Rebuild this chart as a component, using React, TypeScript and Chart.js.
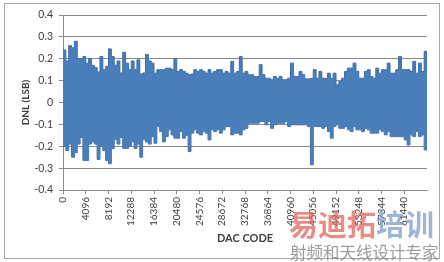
import React, { useEffect, useRef } from "react";
import { Chart, registerables } from "chart.js";

Chart.register(...registerables);

// Each bin covers 512 DAC codes; values are the upper / lower DNL envelope.
const BIN_SIZE = 512;
const CODE_MAX = 65536;

const upperDNL = [
  0.24, 0.19, 0.26, 0.25, 0.28, 0.2, 0.2, 0.21, 0.18, 0.2, 0.17, 0.16, 0.14, 0.21, 0.15, 0.165,
  0.245, 0.21, 0.17, 0.19, 0.135, 0.23, 0.18, 0.15, 0.19, 0.15, 0.195, 0.13, 0.135, 0.22, 0.19, 0.18,
  0.134, 0.15, 0.15, 0.15, 0.157, 0.157, 0.15, 0.2, 0.142, 0.15, 0.142, 0.134, 0.127, 0.13, 0.15, 0.142,
  0.15, 0.142, 0.134, 0.15, 0.134, 0.142, 0.15, 0.15, 0.134, 0.142, 0.134, 0.188, 0.134, 0.142, 0.21, 0.134,
  0.142, 0.127, 0.127, 0.119, 0.119, 0.173, 0.127, 0.111, 0.111, 0.104, 0.119, 0.111, 0.119, 0.104, 0.104, 0.111,
  0.18, 0.119, 0.119, 0.142, 0.127, 0.108, 0.108, 0.11, 0.15, 0.111, 0.142, 0.111, 0.11, 0.134, 0.11, 0.134,
  0.081, 0.096, 0.111, 0.142, 0.157, 0.157, 0.18, 0.142, 0.111, 0.111, 0.142, 0.15, 0.119, 0.111, 0.157, 0.134,
  0.15, 0.15, 0.18, 0.134, 0.134, 0.15, 0.21, 0.15, 0.15, 0.15, 0.142, 0.188, 0.134, 0.18, 0.142, 0.234,
];

const lowerDNL = [
  -0.2, -0.22, -0.19, -0.25, -0.23, -0.19, -0.16, -0.265, -0.265, -0.19, -0.18, -0.19, -0.26, -0.2, -0.22, -0.265,
  -0.28, -0.21, -0.17, -0.19, -0.16, -0.21, -0.21, -0.2, -0.18, -0.21, -0.19, -0.25, -0.17, -0.18, -0.19, -0.156,
  -0.186, -0.11, -0.133, -0.18, -0.156, -0.125, -0.148, -0.163, -0.163, -0.133, -0.163, -0.15, -0.224, -0.14, -0.125, -0.14,
  -0.148, -0.133, -0.14, -0.171, -0.125, -0.133, -0.125, -0.14, -0.125, -0.11, -0.11, -0.148, -0.14, -0.14, -0.148, -0.125,
  -0.118, -0.095, -0.095, -0.095, -0.095, -0.087, -0.087, -0.102, -0.087, -0.118, -0.102, -0.095, -0.095, -0.095, -0.087, -0.11,
  -0.102, -0.102, -0.102, -0.102, -0.102, -0.102, -0.11, -0.285, -0.11, -0.11, -0.11, -0.118, -0.11, -0.133, -0.163, -0.11,
  -0.102, -0.118, -0.118, -0.11, -0.125, -0.133, -0.11, -0.125, -0.125, -0.133, -0.118, -0.125, -0.14, -0.14, -0.14, -0.125,
  -0.133, -0.148, -0.133, -0.156, -0.156, -0.156, -0.156, -0.156, -0.171, -0.194, -0.148, -0.156, -0.133, -0.156, -0.148, -0.217,
];

const xTickCodes = [
  0, 4096, 8192, 12288, 16384, 20480, 24576, 28672, 32768, 36864, 40960, 45056, 49152, 53248, 57344, 61440,
];
const yTickValues = [-0.4, -0.3, -0.2, -0.1, 0, 0.1, 0.2, 0.3, 0.4];

const X_TITLE = "DAC CODE";
const Y_TITLE = "DNL (LSB)";
const WATERMARK_RED = "易迪拓";
const WATERMARK_BLUE = "培训";
const WATERMARK_SUB = "射频和天线设计专家";

const GRID = "#8a8a8a";
const TEXT = "#404040";
const FILL = "#4A7EBB";
const EDGE = "#3D6BA3";

function toPoints(arr: number[]) {
  const pts = arr.map((v, i) => ({ x: i * BIN_SIZE, y: v }));
  pts.push({ x: CODE_MAX, y: arr[arr.length - 1] });
  return pts;
}

export default function App() {
  const ref = useRef<HTMLCanvasElement>(null);

  useEffect(() => {
    if (!ref.current) return;
    const chart = new Chart(ref.current, {
      type: "line",
      data: {
        datasets: [
          {
            label: "upper",
            data: toPoints(upperDNL),
            stepped: true,
            fill: "+1",
            backgroundColor: FILL,
            borderColor: EDGE,
            borderWidth: 1,
            pointRadius: 0,
          },
          {
            label: "lower",
            data: toPoints(lowerDNL),
            stepped: true,
            fill: false,
            borderColor: EDGE,
            borderWidth: 1,
            pointRadius: 0,
          },
        ],
      },
      options: {
        animation: false,
        responsive: false,
        events: [],
        layout: { padding: { left: 0, right: 17, top: 15, bottom: 0 } },
        plugins: { legend: { display: false }, tooltip: { enabled: false } },
        scales: {
          x: {
            type: "linear",
            min: 0,
            max: CODE_MAX,
            afterBuildTicks: (s: any) => {
              s.ticks = xTickCodes.map((v) => ({ value: v }));
            },
            afterFit: (s: any) => {
              s.height = 72;
            },
            ticks: {
              autoSkip: false,
              minRotation: 90,
              maxRotation: 90,
              padding: 3,
              color: TEXT,
              font: { family: "Lato", size: 10 },
              callback: (v: any) => String(v),
            },
            grid: { drawOnChartArea: false, drawTicks: true, tickLength: 4, color: GRID },
            border: { color: GRID },
            title: {
              display: true,
              text: X_TITLE,
              color: TEXT,
              font: { family: "Lato", size: 11, weight: "bold" },
              padding: { top: 0, bottom: 17 },
            },
          },
          y: {
            type: "linear",
            min: -0.4,
            max: 0.4,
            afterBuildTicks: (s: any) => {
              s.ticks = yTickValues.map((v) => ({ value: v }));
            },
            afterFit: (s: any) => {
              s.width = 63;
            },
            ticks: {
              padding: 6,
              color: TEXT,
              font: { family: "Lato", size: 10.5 },
              callback: (v: any) => (Number(v) === 0 ? "0" : Number(v).toFixed(1)),
            },
            grid: { color: GRID, tickLength: 4 },
            border: { color: GRID },
            title: {
              display: true,
              text: Y_TITLE,
              color: TEXT,
              font: { family: "Lato", size: 10, weight: "bold" },
              padding: { top: 20, bottom: 0 },
            },
          },
        },
      },
    } as any);
    return () => chart.destroy();
  }, []);

  return (
    <div style={{ position: "fixed", left: 0, top: 0, width: 444, height: 262, background: "#fff" }}>
      <div
        style={{
          position: "absolute",
          left: 4,
          top: 3,
          width: 436,
          height: 256,
          border: "1px solid #a8a8a8",
          boxSizing: "border-box",
        }}
      />
      <canvas ref={ref} width={444} height={262} style={{ position: "absolute", left: 0, top: 0, display: "block" }} />
      <div
        style={{
          position: "absolute",
          left: 289,
          top: 206,
          fontFamily: "'Noto Sans CJK SC'",
          fontWeight: 700,
          fontSize: 29,
          lineHeight: "34px",
          whiteSpace: "nowrap",
          opacity: 0.75,
        }}
      >
        <span style={{ color: "#e0675e" }}>{WATERMARK_RED}</span>
        <span style={{ color: "#7f9cc8" }}>{WATERMARK_BLUE}</span>
      </div>
      <div
        style={{
          position: "absolute",
          left: 290,
          top: 242,
          fontFamily: "'Noto Sans CJK SC'",
          fontSize: 16.5,
          lineHeight: "20px",
          color: "#8c8c8c",
          whiteSpace: "nowrap",
          opacity: 0.85,
        }}
      >
        {WATERMARK_SUB}
      </div>
    </div>
  );
}
